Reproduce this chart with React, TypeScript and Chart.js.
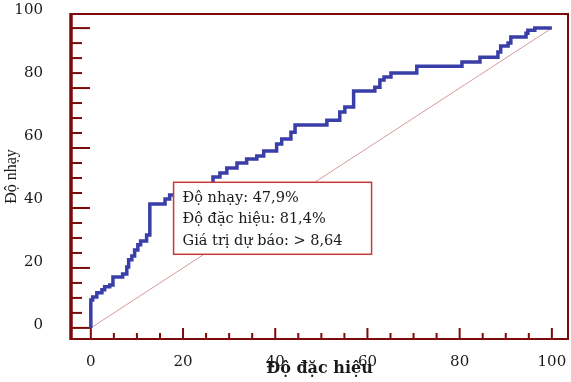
import React, { useEffect, useRef } from "react";
import { Chart, registerables } from "chart.js";

Chart.register(...registerables);

// ROC curve: x = 100 - specificity (%), y = sensitivity (%)
const fprValues = [
  0, 0.4, 1.3, 2.4, 3.0, 4.1, 4.8, 6.9, 7.8, 8.2,
  8.9, 9.5, 10.2, 10.8, 12.1, 12.8, 16.1, 17.1, 18.6, 26.5,
  28.0, 29.5, 31.7, 33.8, 36.0, 37.5, 40.3, 41.4, 43.4, 44.3,
  51.2, 54.0, 55.1, 57.0, 61.6, 62.7, 63.6, 65.1, 70.7, 80.5,
  84.4, 88.3, 88.9, 90.5, 91.1, 94.4, 94.8, 96.3, 100,
];
const sensValues = [
  0, 9.3, 10.3, 11.7, 12.7, 13.7, 14.3, 17.0, 18.0, 20.3,
  22.7, 24.0, 26.0, 27.7, 29.0, 31.0, 41.3, 43.0, 44.3, 47.9,
  50.3, 51.7, 53.3, 55.0, 56.3, 57.3, 59.0, 61.3, 63.0, 65.3,
  67.7, 69.3, 72.0, 73.7, 79.0, 80.3, 82.7, 83.7, 85.0, 87.3,
  88.7, 90.3, 92.0, 94.0, 95.0, 97.0, 98.3, 99.3, 100,
];
const diagX = [0, 100];
const diagY = [0, 100];

const xTickValues = [0, 20, 40, 60, 80, 100];
const yTickValues = [0, 20, 40, 60, 80, 100];

const optSensitivity = 47.9;
const optSpecificity = 81.4;
const cutoffLabel = "> 8,64";

const xTitle = "Độ đặc hiệu";
const yTitle = "Độ nhạy";
const boxLines = [
  `Độ nhạy: ${String(optSensitivity).replace(".", ",")}%`,
  `Độ đặc hiệu: ${String(optSpecificity).replace(".", ",")}%`,
  `Giá trị dự báo: ${cutoffLabel}`,
];

const AXIS_COLOR = "#7d0a0a";
const CURVE_COLOR = "#3a3ea8";
const DIAG_COLOR = "#d69a9a";
const BOX_COLOR = "#c83a3a";
const TEXT_COLOR = "#1a1a1a";
const SERIF = '"DejaVu Serif", "Liberation Serif", serif';

export default function App() {
  const canvasRef = useRef<HTMLCanvasElement>(null);

  useEffect(() => {
    const canvas = canvasRef.current;
    if (!canvas) return;

    const framePlugin = {
      id: "frameTicks",
      beforeDatasetsDraw(chart: any) {
        const { ctx, chartArea: a, scales } = chart;
        const xs = scales.x;
        const ys = scales.y;
        ctx.save();
        ctx.strokeStyle = AXIS_COLOR;
        ctx.lineCap = "butt";
        ctx.lineWidth = 2;
        for (let v = 0; v <= 100; v += 5) {
          const major = v % 20 === 0;
          const py = ys.getPixelForValue(v);
          ctx.beginPath();
          ctx.moveTo(a.left, py);
          ctx.lineTo(a.left + (major ? 19 : 11), py);
          ctx.stroke();
          const px = xs.getPixelForValue(v);
          ctx.beginPath();
          ctx.moveTo(px, a.bottom);
          ctx.lineTo(px, a.bottom - (major ? 11 : 6));
          ctx.stroke();
        }
        ctx.lineWidth = 2;
        ctx.strokeRect(a.left, a.top, a.right - a.left, a.bottom - a.top);
        ctx.lineWidth = 3.5;
        ctx.beginPath();
        ctx.moveTo(a.left, a.top - 1);
        ctx.lineTo(a.left, a.bottom + 1);
        ctx.stroke();
        ctx.restore();
      },
      afterDatasetsDraw(chart: any) {
        const { ctx, scales } = chart;
        const px = scales.x.getPixelForValue(100 - optSpecificity);
        const py = scales.y.getPixelForValue(optSensitivity);
        const left = px - 3;
        const top = py - 2;
        const w = 198;
        const h = 72;
        ctx.save();
        ctx.fillStyle = "#ffffff";
        ctx.fillRect(left, top, w, h);
        ctx.strokeStyle = BOX_COLOR;
        ctx.lineWidth = 1.5;
        ctx.strokeRect(left, top, w, h);
        ctx.fillStyle = TEXT_COLOR;
        ctx.font = `14.5px ${SERIF}`;
        ctx.textAlign = "left";
        ctx.textBaseline = "alphabetic";
        const baselines = [20, 41, 63];
        boxLines.forEach((t, i) => ctx.fillText(t, left + 9, top + baselines[i]));
        ctx.restore();
      },
    };

    const chart = new Chart(canvas, {
      type: "line",
      data: {
        datasets: [
          {
            label: "ROC",
            data: fprValues.map((x, i) => ({ x, y: sensValues[i] })),
            borderColor: CURVE_COLOR,
            borderWidth: 3.5,
            pointRadius: 0,
            stepped: "after",
            fill: false,
            xAxisID: "x",
            yAxisID: "y",
          },
          {
            label: "Reference",
            data: diagX.map((x, i) => ({ x, y: diagY[i] })),
            borderColor: DIAG_COLOR,
            borderWidth: 1,
            pointRadius: 0,
            fill: false,
            xAxisID: "x",
            yAxisID: "y",
          },
        ],
      },
      options: {
        animation: false,
        responsive: true,
        maintainAspectRatio: false,
        layout: { padding: { top: 14, right: 3, left: 0, bottom: 0 } },
        plugins: {
          legend: { display: false },
          tooltip: { enabled: false },
        },
        scales: {
          x: {
            type: "linear",
            position: "bottom",
            min: -4.3,
            max: 103.5,
            grid: { display: false },
            border: { display: false },
            ticks: {
              autoSkip: false,
              maxRotation: 0,
              padding: 6,
              color: TEXT_COLOR,
              font: { family: SERIF, size: 15 },
              callback: (v: any) => String(v),
            },
            afterBuildTicks: (axis: any) => {
              axis.ticks = xTickValues.map((v) => ({ value: v }));
            },
            afterFit: (s: any) => {
              s.height = 43;
              s.paddingLeft = 0;
              s.paddingRight = 0;
            },
            title: {
              display: true,
              text: xTitle,
              color: TEXT_COLOR,
              font: { family: SERIF, size: 16, weight: "bold" },
              padding: { top: 0, bottom: 4 },
            },
          },
          y: {
            type: "linear",
            axis: "y",
            position: "left",
            display: false,
            min: -3.7,
            max: 104.7,
          },
          yLabels: {
            type: "linear",
            axis: "y",
            position: "left",
            min: -4.4,
            max: 98.7,
            grid: { display: false },
            border: { display: false },
            ticks: {
              autoSkip: false,
              padding: 20,
              color: TEXT_COLOR,
              font: { family: SERIF, size: 15 },
              callback: (v: any) => String(v),
            },
            afterBuildTicks: (axis: any) => {
              axis.ticks = yTickValues.map((v) => ({ value: v }));
            },
            afterFit: (s: any) => {
              s.width = 71;
              s.paddingTop = 0;
              s.paddingBottom = 0;
            },
            title: {
              display: true,
              text: yTitle,
              color: TEXT_COLOR,
              font: { family: '"Liberation Serif", serif', size: 16 },
              padding: { top: 2, bottom: 0 },
            },
          },
        },
      } as any,
      plugins: [framePlugin],
    });

    return () => chart.destroy();
  }, []);

  return (
    <div style={{ position: "fixed", left: 0, top: 0, width: 571, height: 382, background: "#fff" }}>
      <canvas ref={canvasRef} />
    </div>
  );
}
